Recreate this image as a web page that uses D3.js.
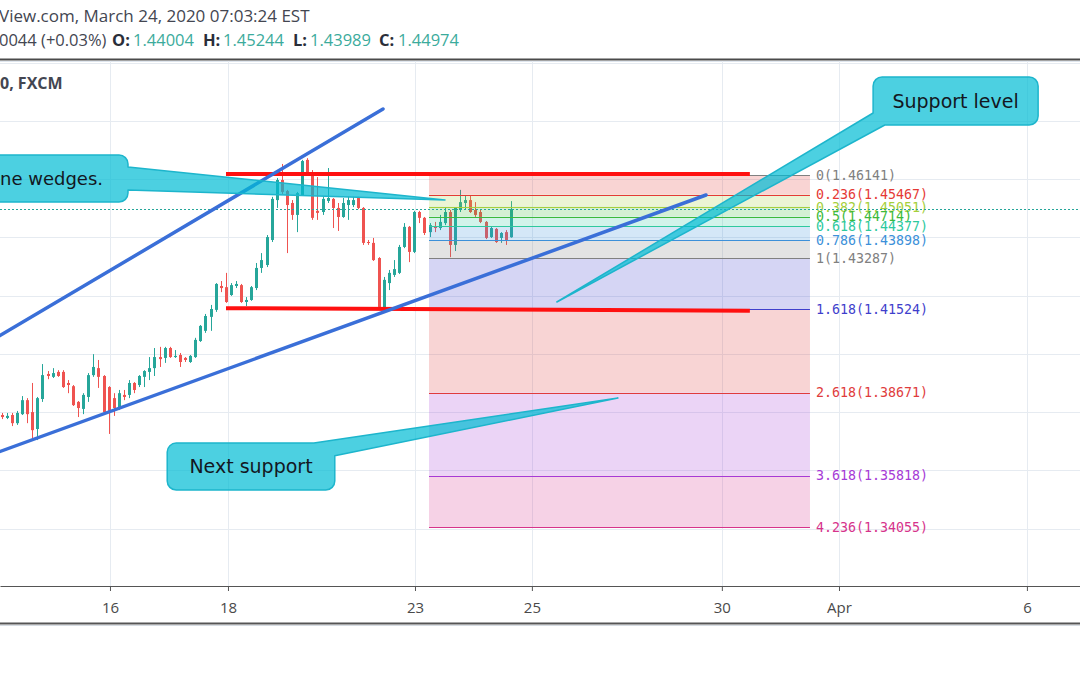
<!DOCTYPE html>
<html><head><meta charset="utf-8">
<script src="https://cdn.jsdelivr.net/npm/d3@7"></script>
<style>html,body{margin:0;padding:0;background:#fff;}svg{display:block;}</style>
</head><body>
<svg id="chart" width="1080" height="675"></svg>
<script>
// ---- data (2-hour candles) ----
const openP = [1.3790,1.3780,1.3790,1.3762,1.3793,1.3841,1.3800,1.3742,1.3845,1.3931,
1.3921,1.3938,1.3938,1.3900,1.3889,1.3835,1.3811,1.3852,1.3927,1.3951,
1.3924,1.3886,1.3848,1.3814,1.3859,1.3859,1.3900,1.3893,1.3921,1.3938,
1.3951,1.3989,1.3986,1.4020,1.3989,1.3996,1.3986,1.3972,1.3989,1.4044,
1.4079,1.4127,1.4151,1.4233,1.4229,1.4202,1.4233,1.4236,1.4178,1.4185,
1.4226,1.4295,1.4305,1.4391,1.4528,1.4597,1.4559,1.4518,1.4477,1.4545,
1.4666,1.4624,1.4491,1.4487,1.4525,1.4532,1.4501,1.4470,1.4511,1.4511,
1.4535,1.4501,1.4384,1.4381,1.4329,1.4158,1.4243,1.4271,1.4278,1.4367,
1.4436,1.4350,1.4487,1.4467,1.4418,1.4439,1.4432,1.4449,1.4487,1.4374,
1.4494,1.4518,1.4528,1.4494,1.4487,1.4453,1.4401,1.4429,1.4398,1.4418,1.44004];
const highP = [1.3797,1.3797,1.3797,1.3804,1.3855,1.3848,1.3900,1.3852,1.3965,1.3941,
1.3951,1.3944,1.3944,1.3910,1.3893,1.3838,1.3865,1.3934,1.3999,1.3979,
1.3927,1.3889,1.3865,1.3876,1.3876,1.3910,1.3903,1.3927,1.3944,1.3989,
1.4020,1.4024,1.4024,1.4024,1.4013,1.4003,1.3989,1.3996,1.4055,1.4099,
1.4137,1.4168,1.4243,1.4250,1.4278,1.4243,1.4250,1.4240,1.4195,1.4233,
1.4312,1.4346,1.4408,1.4539,1.4604,1.4652,1.4563,1.4528,1.4556,1.4666,
1.4672,1.4631,1.4607,1.4539,1.4638,1.4535,1.4518,1.4535,1.4539,1.4539,
1.4539,1.4504,1.4391,1.4398,1.4332,1.4264,1.4288,1.4322,1.4374,1.4449,
1.4439,1.4491,1.4491,1.4470,1.4449,1.4453,1.4477,1.4501,1.4494,1.4504,
1.4563,1.4545,1.4545,1.4521,1.4494,1.4456,1.4436,1.4432,1.4418,1.4425,1.45244];
const lowP = [1.3776,1.3776,1.3752,1.3756,1.3790,1.3762,1.3711,1.3704,1.3835,1.3913,
1.3917,1.3921,1.3883,1.3865,1.3821,1.3783,1.3793,1.3835,1.3921,1.3883,
1.3797,1.3725,1.3787,1.3807,1.3841,1.3848,1.3865,1.3886,1.3886,1.3910,
1.3924,1.3955,1.3969,1.3986,1.3986,1.3955,1.3972,1.3969,1.3986,1.4041,
1.4072,1.4079,1.4144,1.4212,1.4175,1.4199,1.4226,1.4175,1.4164,1.4182,
1.4219,1.4278,1.4298,1.4384,1.4501,1.4549,1.4346,1.4460,1.4418,1.4542,
1.4614,1.4460,1.4460,1.4477,1.4518,1.4432,1.4422,1.4467,1.4460,1.4504,
1.4497,1.4374,1.4374,1.4319,1.4158,1.4151,1.4219,1.4264,1.4274,1.4363,
1.4315,1.4346,1.4449,1.4408,1.4401,1.4418,1.4425,1.4442,1.4332,1.4353,
1.4487,1.4494,1.4484,1.4470,1.4449,1.4394,1.4398,1.4381,1.4381,1.4374,1.43989];
const closeP = [1.3783,1.3787,1.3762,1.3797,1.3841,1.3793,1.3738,1.3848,1.3927,1.3924,
1.3934,1.3924,1.3886,1.3893,1.3824,1.3814,1.3859,1.3927,1.3955,1.3921,
1.3800,1.3804,1.3814,1.3865,1.3852,1.3900,1.3876,1.3924,1.3941,1.3951,
1.3989,1.3982,1.4020,1.3989,1.3993,1.3972,1.3979,1.3993,1.4048,1.4096,
1.4130,1.4154,1.4240,1.4226,1.4178,1.4236,1.4240,1.4178,1.4185,1.4229,
1.4295,1.4322,1.4401,1.4532,1.4597,1.4556,1.4511,1.4477,1.4552,1.4662,
1.4621,1.4467,1.4484,1.4532,1.4535,1.4501,1.4470,1.4518,1.4528,1.4528,
1.4501,1.4381,1.4381,1.4322,1.4161,1.4254,1.4278,1.4291,1.4367,1.4436,
1.4350,1.4487,1.4467,1.4415,1.4442,1.4432,1.4453,1.4487,1.4374,1.4501,
1.4521,1.4528,1.4487,1.4477,1.4453,1.4398,1.4432,1.4384,1.4415,1.4391,1.44974];

const tickLabels = ["16","18","23","25","30","Apr","6"];
const tickBars   = [21.26, 44.43, 81.15, 104.1, 141.4, 164.4, 201.3];
const gridPrices = [1.50,1.48,1.46,1.44,1.42,1.40,1.38,1.36,1.34];

const fibLevels = ["0","0.236","0.382","0.5","0.618","0.786","1","1.618","2.618","3.618","4.236"];
const fibPrices = [1.46141,1.45467,1.45051,1.44714,1.44377,1.43898,1.43287,1.41524,1.38671,1.35818,1.34055];
const fibColors = ["#808080","#e53935","#a5cf3c","#3cb93c","#2ec99e","#3c90d9","#808080","#3f3fcc","#e03c3c","#a63ad6","#d6338b"];
const fibRange  = [83.9, 158.7];          // bar index span of the fib tool

const headerLast = {o:"1.44004", h:"1.45244", l:"1.43989", c:"1.44974"};
const lastPrice = 1.44974;

// drawings in (bar index, price) coordinates
const redLines  = [[[44.04,1.46175],[146.9,1.46175]], [[44.04,1.4157],[146.9,1.4148]]];
const wedgeLines = [[[-0.6,1.40600],[74.87,1.48408]], [[-0.6,1.36630],[138.3,1.45454]]];
const callouts = [
  {text:"ne wedges.", box:[-8.2,1.46828,24.8,1.45214], type:"right",
   a:[24.8,1.46416], b:[24.8,1.45626], tip:[87.04,1.45282], anchor:"start", tx:0, size:18},
  {text:"Support level", box:[171.1,1.49506,203.5,1.47858], type:"bl",
   a:[171.1,1.48270], b:[173.4,1.47858], tip:[109.0,1.41780], anchor:"middle", size:19},
  {text:"Next support", box:[32.5,1.36938,65.4,1.35324], type:"tr",
   a:[61.3,1.36938], b:[65.4,1.36500], tip:[121.0,1.38483], anchor:"middle", size:19}
];

// ---- scales ----
const W = 1080, plotTop = 61, plotBottom = 586;
const x = d3.scaleLinear().domain([0, 100]).range([1.7, 511]);
const y = d3.scaleLinear().domain([1.34055, 1.46141]).range([527, 175]);
const xFull = d3.scaleLinear().domain([x.invert(0), x.invert(W)]).range([0, W]);

const svg = d3.select("#chart");
const defs = svg.append("defs");
defs.append("clipPath").attr("id","plot").append("rect")
  .attr("x",0).attr("y",plotTop).attr("width",W).attr("height",plotBottom-plotTop);

const font = "'Open Sans', 'DejaVu Sans', sans-serif";

// header
svg.append("text").attr("x",-1).attr("y",22).attr("font-family",font)
  .attr("font-size",17).attr("fill","#434651").text("View.com, March 24, 2020 07:03:24 EST");
const h2 = svg.append("text").attr("y",46).attr("font-family",font).attr("font-size",16.5).attr("fill","#434651");
h2.append("tspan").attr("x",-1).text("0044 (+0.03%)");
[["O:",112,headerLast.o,133],["H:",203,headerLast.h,223],["L:",293,headerLast.l,310],["C:",379,headerLast.c,398]]
 .forEach(([lab,lx,val,vx])=>{
   h2.append("tspan").attr("x",lx).attr("font-weight","bold").attr("fill","#2a2e39").text(lab);
   h2.append("tspan").attr("x",vx).attr("fill","#3bab9c").text(val);
 });

// frame
svg.append("line").attr("x1",0).attr("x2",W).attr("y1",59.5).attr("y2",59.5).attr("stroke","#4a4a4a").attr("stroke-width",2);
svg.append("line").attr("x1",0).attr("x2",W).attr("y1",61.5).attr("y2",61.5).attr("stroke","#dfe6ee").attr("stroke-width",1);

const plot = svg.append("g").attr("clip-path","url(#plot)");

// grid
plot.append("g").selectAll("line").data(gridPrices).join("line")
  .attr("x1",0).attr("x2",W).attr("y1",d=>Math.round(y(d))+0.5).attr("y2",d=>Math.round(y(d))+0.5)
  .attr("stroke","#e6ebf1").attr("stroke-width",1);
plot.append("g").selectAll("line").data(tickBars).join("line")
  .attr("x1",d=>Math.round(xFull(d))+0.5).attr("x2",d=>Math.round(xFull(d))+0.5)
  .attr("y1",plotTop).attr("y2",plotBottom).attr("stroke","#e6ebf1").attr("stroke-width",1);

svg.append("text").attr("x",0).attr("y",89).attr("font-family",font).attr("font-size",16)
  .attr("font-weight","bold").attr("fill","#434651").text("0, FXCM");

// candles
const candles = openP.map((o,i)=>({i,o,h:highP[i],l:lowP[i],c:closeP[i]}));
const up = "#26a69a", down = "#ef5350";
const cg = plot.append("g");
cg.selectAll("line").data(candles).join("line")
  .attr("x1",d=>Math.round(x(d.i))+0.5).attr("x2",d=>Math.round(x(d.i))+0.5)
  .attr("y1",d=>y(d.h)).attr("y2",d=>y(d.l))
  .attr("stroke",d=>d.c>=d.o?up:down).attr("stroke-width",1);
cg.selectAll("rect").data(candles).join("rect")
  .attr("x",d=>Math.round(x(d.i))-1).attr("width",3)
  .attr("y",d=>y(Math.max(d.o,d.c)))
  .attr("height",d=>Math.max(1,Math.abs(y(d.o)-y(d.c))))
  .attr("fill",d=>d.c>=d.o?up:down);

// fib retracement/extension
const fg = plot.append("g");
const fx0 = x(fibRange[0]), fx1 = x(fibRange[1]);
fg.selectAll("rect").data(d3.range(1,fibPrices.length)).join("rect")
  .attr("x",fx0).attr("width",fx1-fx0)
  .attr("y",i=>y(fibPrices[i-1])).attr("height",i=>y(fibPrices[i])-y(fibPrices[i-1]))
  .attr("fill",i=>fibColors[i]).attr("fill-opacity",0.22);
fg.selectAll("line").data(fibPrices).join("line")
  .attr("x1",fx0).attr("x2",fx1)
  .attr("y1",d=>Math.round(y(d))+0.5).attr("y2",d=>Math.round(y(d))+0.5)
  .attr("stroke",(d,i)=>fibColors[i]).attr("stroke-width",1.2);
fg.selectAll("text").data(fibPrices).join("text")
  .attr("x",fx1+6).attr("y",d=>y(d)).attr("dy","0.36em")
  .attr("font-family","'DejaVu Sans Mono', monospace").attr("font-size",13.3)
  .attr("fill",(d,i)=>fibColors[i])
  .text((d,i)=>fibLevels[i]+"("+d.toFixed(5)+")");

// last price dotted line
plot.append("line").attr("x1",0).attr("x2",W)
  .attr("y1",Math.round(y(lastPrice))+0.5).attr("y2",Math.round(y(lastPrice))+0.5)
  .attr("stroke","#26a69a").attr("stroke-width",1).attr("stroke-dasharray","2,2");

// red horizontal lines
plot.append("g").selectAll("line").data(redLines).join("line")
  .attr("x1",d=>x(d[0][0])).attr("y1",d=>y(d[0][1]))
  .attr("x2",d=>x(d[1][0])).attr("y2",d=>y(d[1][1]))
  .attr("stroke","#ff1010").attr("stroke-width",4);

// wedge lines
plot.append("g").selectAll("line").data(wedgeLines).join("line")
  .attr("x1",d=>x(d[0][0])).attr("y1",d=>y(d[0][1]))
  .attr("x2",d=>x(d[1][0])).attr("y2",d=>y(d[1][1]))
  .attr("stroke","#3a6fd8").attr("stroke-width",3.5).attr("stroke-linecap","round");

// callouts
function calloutPath(c){
  const x0=x(c.box[0]), y0=y(c.box[1]), x1=x(c.box[2]), y1=y(c.box[3]), r=9;
  const a=[x(c.a[0]),y(c.a[1])], b=[x(c.b[0]),y(c.b[1])], t=[x(c.tip[0]),y(c.tip[1])];
  const p=d3.path();
  p.moveTo(x0+r,y0);
  if(c.type==="tr"){ p.lineTo(a[0],y0); p.lineTo(t[0],t[1]); p.lineTo(x1,b[1]); }
  else { p.lineTo(x1-r,y0); p.arcTo(x1,y0,x1,y0+r,r); }
  if(c.type==="right"){ p.lineTo(x1,a[1]); p.lineTo(t[0],t[1]); p.lineTo(x1,b[1]); }
  p.lineTo(x1,y1-r); p.arcTo(x1,y1,x1-r,y1,r);
  if(c.type==="bl"){ p.lineTo(b[0],y1); p.lineTo(t[0],t[1]); p.lineTo(x0,a[1]); }
  else { p.lineTo(x0+r,y1); p.arcTo(x0,y1,x0,y1-r,r); }
  p.lineTo(x0,y0+r); p.arcTo(x0,y0,x0+r,y0,r); p.closePath();
  return p.toString();
}
const co = svg.append("g");
callouts.forEach(c=>{
  co.append("path").attr("d",calloutPath(c))
    .attr("fill","#00bcd4").attr("fill-opacity",0.7)
    .attr("stroke","#1db5cc").attr("stroke-width",1.5).attr("stroke-linejoin","round");
  const x0=x(c.box[0]), y0=y(c.box[1]), x1=x(c.box[2]), y1=y(c.box[3]);
  co.append("text")
    .attr("x", c.anchor==="middle" ? (x0+x1)/2 : c.tx)
    .attr("y",(y0+y1)/2).attr("dy","0.36em")
    .attr("text-anchor",c.anchor)
    .attr("font-family","'DejaVu Sans', sans-serif").attr("font-size",c.size)
    .attr("fill","#131722").text(c.text);
});

// x axis
const axis = d3.axisBottom(xFull).tickValues(tickBars).tickFormat((d,i)=>tickLabels[i])
  .tickSize(5).tickSizeOuter(0).tickPadding(11);
const ag = svg.append("g").attr("transform",`translate(0,${plotBottom})`).call(axis);
ag.select(".domain").attr("stroke","#555");
ag.selectAll(".tick line").attr("stroke","#555");
ag.selectAll(".tick text").attr("font-family",font).attr("font-size",15).attr("fill","#4a4a4a");

svg.append("line").attr("x1",0).attr("x2",W).attr("y1",623.5).attr("y2",623.5).attr("stroke","#555").attr("stroke-width",2);
svg.append("line").attr("x1",0).attr("x2",W).attr("y1",625.5).attr("y2",625.5).attr("stroke","#d5dbe2").attr("stroke-width",1);
</script>
</body></html>
